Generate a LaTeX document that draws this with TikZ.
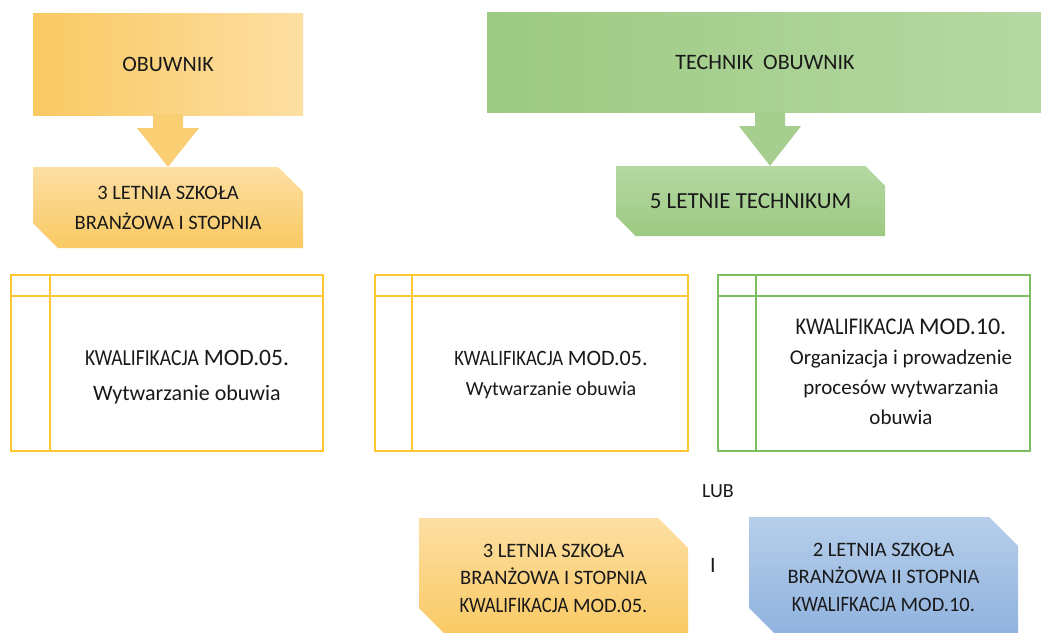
\documentclass[tikz,border=0pt]{standalone}
\usepackage{fontspec}
\setmainfont{Carlito}
\newfontfamily\narrowf{Carlito}[FakeStretch=0.85]
\usetikzlibrary{shapes.misc,calc}
\definecolor{orL}{RGB}{249,201,98}
\definecolor{orR}{RGB}{253,223,163}
\definecolor{orArr}{RGB}{250,207,115}
\definecolor{grL}{RGB}{156,202,130}
\definecolor{grR}{RGB}{182,216,163}
\definecolor{grArr}{RGB}{166,206,143}
\definecolor{blT}{RGB}{182,206,234}
\definecolor{blB}{RGB}{143,178,222}
\definecolor{orLine}{RGB}{255,200,50}
\definecolor{grLine}{RGB}{125,190,95}
\definecolor{txt}{RGB}{25,25,25}
\begin{document}
\begin{tikzpicture}[x=1pt,y=-1pt,
  hdr/.style={rectangle, inner sep=0pt, align=center, text=txt},
  chbox/.style={chamfered rectangle, chamfered rectangle corners={north east,south west},
    chamfered rectangle xsep=12pt, chamfered rectangle ysep=13pt, inner sep=0pt, align=center, text=txt},
  tbl/.style={draw, line width=1.8pt, rectangle, inner sep=0pt, minimum width=312pt, minimum height=176pt},
  tt/.style={align=center, text=txt, inner sep=0pt}]
\clip (0,0) rectangle (1041,632);
\fill[white] (0,0) rectangle (1041,632);

% top left column
\node[hdr, font=\fontsize{22}{30}\selectfont, left color=orL, right color=orR, minimum width=270pt, minimum height=102pt] (ob) at (168,64) {OBUWNIK};
\node[chbox, font=\fontsize{20.5}{30}\selectfont, top color=orR, bottom color=orL, minimum width=270pt, minimum height=81pt] (ol) at (168,207.5)
  {3 LETNIA SZKOŁA\\BRANŻOWA I STOPNIA};
\fill[orArr] ($(ob.south)+(-15,-1)$) -- ($(ob.south)+(-15,13)$) -- ($(ob.south)+(-31,13)$) -- (ol.north)
  -- ($(ob.south)+(31,13)$) -- ($(ob.south)+(15,13)$) -- ($(ob.south)+(15,-1)$) -- cycle;

% top right column
\node[hdr, font=\fontsize{22}{30}\selectfont, left color=grL, right color=grR, minimum width=556pt, minimum height=100pt] (tech) at (765,62) {TECHNIK\ \ OBUWNIK};
\node[chbox, font=\fontsize{23}{30}\selectfont, top color=grR, bottom color=grL, minimum width=269pt, minimum height=70pt,
  chamfered rectangle xsep=11pt, chamfered rectangle ysep=12pt] (t5) at (750.5,201) {5 LETNIE TECHNIKUM};
\coordinate (gx) at (770,0);
\fill[grArr] ($(tech.south -| gx)+(-15,-1)$) -- ($(tech.south -| gx)+(-15,14)$) -- ($(tech.south -| gx)+(-31,14)$)
  -- (t5.north -| gx) -- ($(tech.south -| gx)+(31,14)$) -- ($(tech.south -| gx)+(15,14)$) -- ($(tech.south -| gx)+(15,-1)$) -- cycle;

% tables
\node[tbl, draw=orLine] (ta) at (167,363) {};
\node[tbl, draw=orLine, minimum width=313pt] (tb) at (531.5,363) {};
\node[tbl, draw=grLine] (tc) at (874,363) {};
\foreach \t/\c/\v in {ta/orLine/40, tb/orLine/38, tc/grLine/39}{
  \draw[\c, line width=1.8pt] ($(\t.north west)+(\v,0)$) -- ($(\t.south west)+(\v,0)$);
  \draw[\c, line width=1.8pt] ($(\t.north west)+(0,22)$) -- ($(\t.north east)+(0,22)$);
}
\node[tt, font=\fontsize{22}{35}\selectfont] (taT) at (187,377)
  {{\narrowf\fontsize{23}{35}\selectfont KWALIFIKACJA} {\fontsize{23.5}{35}\selectfont MOD.05.}\\
   Wytwarzanie obuwia};
\node[tt, font=\fontsize{20}{30}\selectfont] (tbT) at (551,375)
  {{\narrowf\fontsize{22}{30}\selectfont KWALIFIKACJA} {\fontsize{22}{30}\selectfont MOD.05.}\\
   Wytwarzanie obuwia};
\node[tt, font=\fontsize{21}{30}\selectfont] (tcT) at (901,372)
  {{\narrowf\fontsize{24}{30}\selectfont KWALIFIKACJA} {\fontsize{24}{30}\selectfont MOD.10.}\\
   Organizacja i prowadzenie\\
   procesów wytwarzania\\
   obuwia};

% bottom
\node[tt, font=\fontsize{20}{30}\selectfont] (lub) at (718,491) {LUB};
\node[chbox, font=\fontsize{20.5}{27.5}\selectfont, top color=orR, bottom color=orL, minimum width=269pt, minimum height=120pt,
  chamfered rectangle xsep=15pt, chamfered rectangle ysep=15pt] (bo) at (553.5,578)
  {3 LETNIA SZKOŁA\\BRANŻOWA I STOPNIA\\
   {\narrowf\fontsize{22}{27.5}\selectfont KWALIFIKACJA} MOD.05.};
\node[tt, font=\fontsize{22}{30}\selectfont] (iand) at (713,565) {I};
\node[chbox, font=\fontsize{20.5}{27.5}\selectfont, top color=blT, bottom color=blB, minimum width=269pt, minimum height=120pt,
  chamfered rectangle xsep=14pt, chamfered rectangle ysep=15pt] (bb) at (883.5,577)
  {2 LETNIA SZKOŁA\\BRANŻOWA II STOPNIA\\
   {\narrowf\fontsize{22}{27.5}\selectfont KWALIFKACJA} MOD.10.};
\end{tikzpicture}
\end{document}
